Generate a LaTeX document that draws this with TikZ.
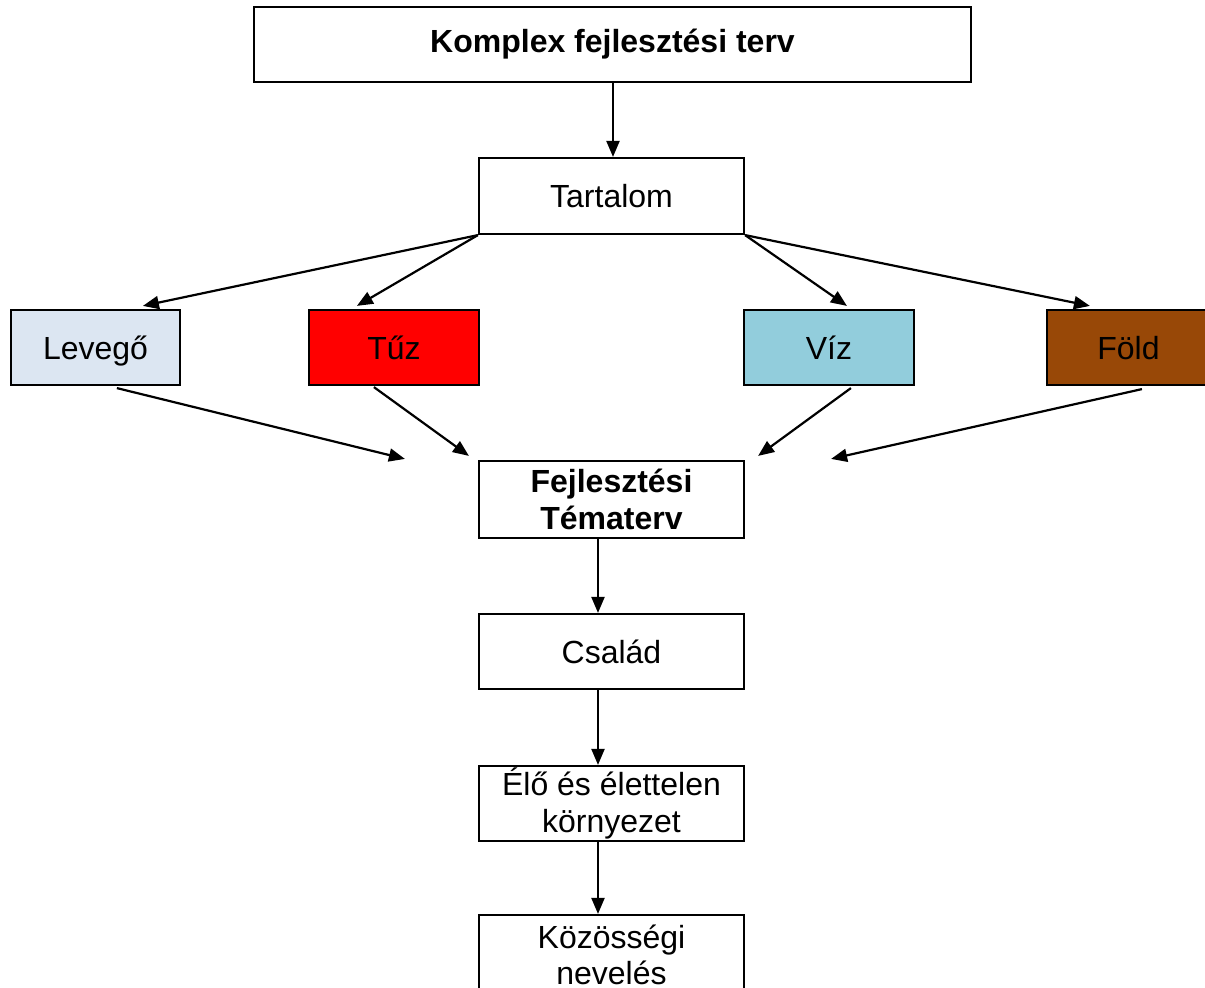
\documentclass[tikz,border=0pt]{standalone}
\usepackage{fontspec}
\setmainfont{Liberation Sans}
\usetikzlibrary{arrows.meta,calc}
\definecolor{levc}{HTML}{DCE6F2}
\definecolor{tuzc}{HTML}{FF0000}
\definecolor{vizc}{HTML}{92CDDC}
\definecolor{foldc}{HTML}{984807}
\tikzset{
  box/.style={draw=black, line width=2.2pt, rectangle, inner sep=0pt, align=center,
    font=\fontsize{32}{36.5}\selectfont, minimum height=75pt},
  one/.style={box, text height=23pt, text depth=0pt},
  bbox/.style={box, font=\fontsize{32}{36.5}\selectfont\bfseries},
  arr/.style={line width=2.2pt, -{Triangle[length=16pt,width=13pt]}},
}
\begin{document}
\begin{tikzpicture}[x=1pt,y=-1pt]
\useasboundingbox (0,0) rectangle (1205,988);
\clip (0,0) rectangle (1205,988);
\fill[white] (0,0) rectangle (1205,988);
\node[bbox, minimum width=717pt] (top) at (612.5,44.5) {Komplex fejlesztési terv};
\node[one, minimum width=265pt, minimum height=76pt] (tart) at (611.5,196) {Tartalom};
\node[one, fill=levc, minimum width=169pt] (lev) at (95.5,347.5) {Levegő};
\node[one, fill=tuzc, minimum width=170pt] (tuz) at (394,347.5) {Tűz};
\node[one, fill=vizc, minimum width=170pt] (viz) at (829,347.5) {Víz};
\node[one, fill=foldc, minimum width=160pt] (fold) at (1127,347.5) {\hspace*{3pt}Föld};
\node[bbox, minimum width=265pt, minimum height=77pt] (fejl) at (611.5,499.5) {Fejlesztési\\Tématerv};
\node[one, minimum width=265pt] (csal) at (611.5,651.5) {Család};
\node[box, minimum width=265pt] (elo) at (611.5,803.5) {Élő és élettelen\\környezet};
\node[box, minimum width=265pt, minimum height=80pt] (koz) at (611.5,955) {Közösségi\\nevelés};

\draw[arr] (tart.north |- top.south) ++(1.5,0) -- ($(tart.north)+(1.5,0)$);
\draw[arr] (tart.south west) -- ($(lev.north west)+(133,-3)$);
\draw[arr] (tart.south west) -- ($(tuz.north west)+(49,-3)$);
\draw[arr] (tart.south east) -- ($(viz.north west)+(104,-3)$);
\draw[arr] (tart.south east) -- ($(fold.north west)+(44,-3)$);
\draw[arr] ($(lev.south west)+(107,2)$) -- ($(fejl.north west)+(-73,-1)$);
\draw[arr] ($(tuz.south west)+(66,1)$) -- ($(fejl.north west)+(-9,-4)$);
\draw[arr] ($(viz.south west)+(108,2)$) -- ($(fejl.north east)+(13,-4)$);
\draw[arr] ($(fold.south west)+(96,3)$) -- ($(fejl.north east)+(86,-1)$);
\draw[arr] ($(fejl.south)+(-13.5,0)$) -- ($(csal.north)+(-13.5,0)$);
\draw[arr] ($(csal.south)+(-13.5,0)$) -- ($(elo.north)+(-13.5,0)$);
\draw[arr] ($(elo.south)+(-13.5,0)$) -- ($(koz.north)+(-13.5,0)$);
\end{tikzpicture}
\end{document}
